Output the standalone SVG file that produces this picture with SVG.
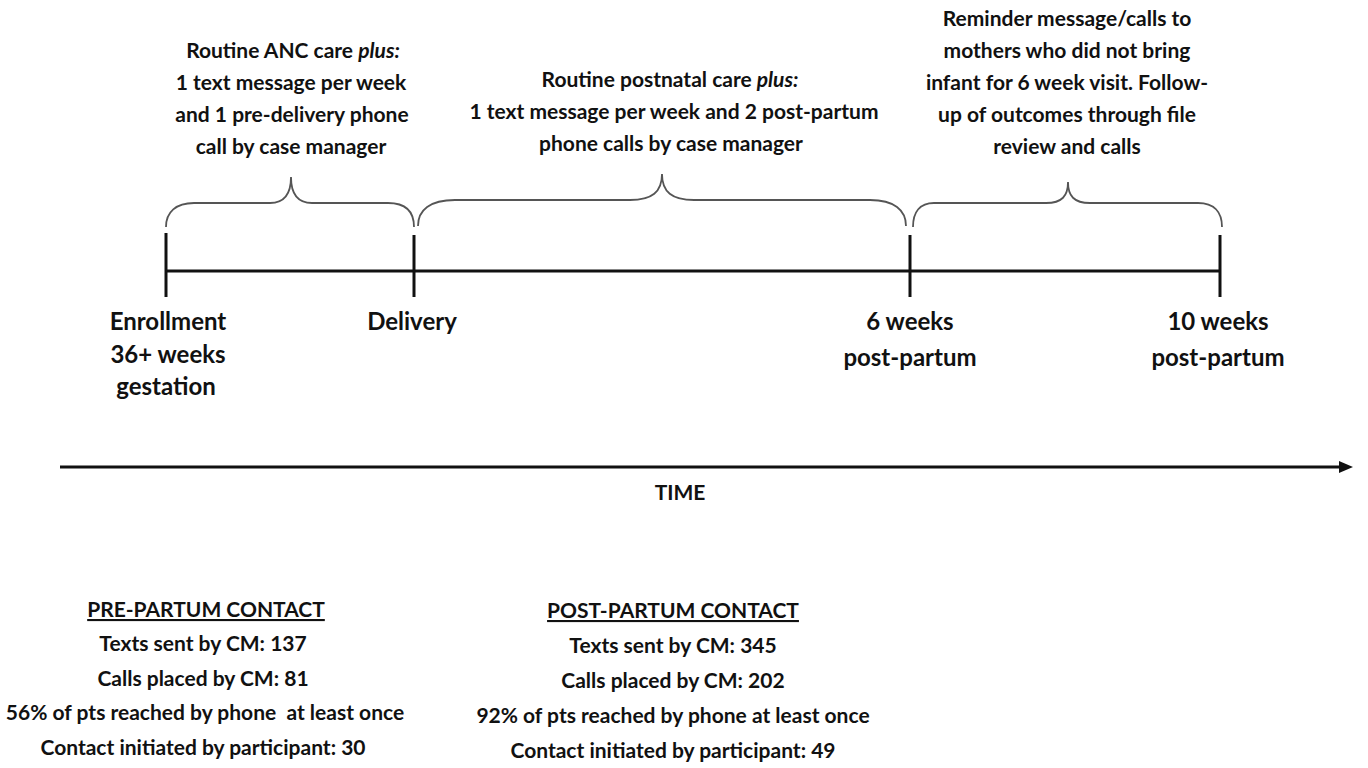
<svg xmlns="http://www.w3.org/2000/svg" width="1368" height="768" viewBox="0 0 1368 768">
<style>
text{font-family:Lato,"Open Sans","Liberation Sans",sans-serif;font-weight:bold;fill:#111;text-anchor:middle}
.b{font-size:21px}
.l{font-size:24px}
.i{font-style:italic}
.u{text-decoration:underline}
.brace{fill:none;stroke:#555;stroke-width:1.8}
.axis{stroke:#111;stroke-width:3;fill:none}
</style>
<rect width="1368" height="768" fill="#fff"/>
<g id="connectors">
<path class="brace" d="M166,227 C166,212 176,203 194,203 L270,203 C284,203 291,195 291,177 C291,195 298,203 312,203 L388,203 C406,203 414,212 414,227"/>
<path class="brace" d="M418,226 C418,210 430,200 455,200 L630,200 C652,200 662,192 662,174 C662,192 672,200 694,200 L870,200 C894,200 906,210 906,226"/>
<path class="brace" d="M913,227 C913,212 920,203 934,203 L1046,203 C1062,203 1068,196 1068,182 C1068,196 1074,203 1090,203 L1198,203 C1214,203 1222,212 1222,227"/>
<line class="axis" x1="166" y1="271" x2="1220" y2="271"/>
<line class="axis" x1="166" y1="233" x2="166" y2="297"/>
<line class="axis" x1="414" y1="235" x2="414" y2="297"/>
<line class="axis" x1="910" y1="235" x2="910" y2="297"/>
<line class="axis" x1="1220" y1="235" x2="1220" y2="297"/>
<line class="axis" x1="60" y1="467" x2="1342" y2="467"/>
<polygon points="1339,461 1353,467 1339,473" fill="#111"/>
</g>
<g id="anc-text">
<text class="b" x="293" y="58">Routine ANC care <tspan class="i">plus:</tspan></text>
<text class="b" x="291" y="90">1 text message per week</text>
<text class="b" x="292" y="122">and 1 pre-delivery phone</text>
<text class="b" x="291" y="154">call by case manager</text>
</g>
<g id="postnatal-text">
<text class="b" x="670" y="87">Routine postnatal care <tspan class="i">plus:</tspan></text>
<text class="b" x="674" y="119">1 text message per week and 2 post-partum</text>
<text class="b" x="671" y="151">phone calls by case manager</text>
</g>
<g id="reminder-text">
<text class="b" x="1067" y="26">Reminder message/calls to</text>
<text class="b" x="1067" y="58">mothers who did not bring</text>
<text class="b" x="1067" y="90">infant for 6 week visit. Follow-</text>
<text class="b" x="1067" y="122">up of outcomes through file</text>
<text class="b" x="1067" y="154">review and calls</text>
</g>
<g id="enrollment">
<text class="l" x="168" y="330">Enrollment</text>
<text class="l" x="168" y="363">36+ weeks</text>
<text class="l" x="166" y="395">gestation</text>
</g>
<g id="delivery">
<text class="l" x="412" y="330">Delivery</text>
</g>
<g id="six-weeks">
<text class="l" x="910" y="330">6 weeks</text>
<text class="l" x="910" y="366">post-partum</text>
</g>
<g id="ten-weeks">
<text class="l" x="1218" y="330">10 weeks</text>
<text class="l" x="1218" y="366">post-partum</text>
</g>
<g id="time">
<text class="b" x="680" y="500">TIME</text>
</g>
<g id="pre-partum">
<text class="b u" x="206" y="617">PRE-PARTUM CONTACT</text>
<text class="b" x="203" y="651">Texts sent by CM: 137</text>
<text class="b" x="203" y="686">Calls placed by CM: 81</text>
<text class="b" x="205" y="720" xml:space="preserve">56% of pts reached by phone  at least once</text>
<text class="b" x="203" y="755">Contact initiated by participant: 30</text>
</g>
<g id="post-partum">
<text class="b u" x="673" y="618">POST-PARTUM CONTACT</text>
<text class="b" x="673" y="653">Texts sent by CM: 345</text>
<text class="b" x="673" y="688">Calls placed by CM: 202</text>
<text class="b" x="673" y="723">92% of pts reached by phone at least once</text>
<text class="b" x="673" y="758">Contact initiated by participant: 49</text>
</g>
</svg>
